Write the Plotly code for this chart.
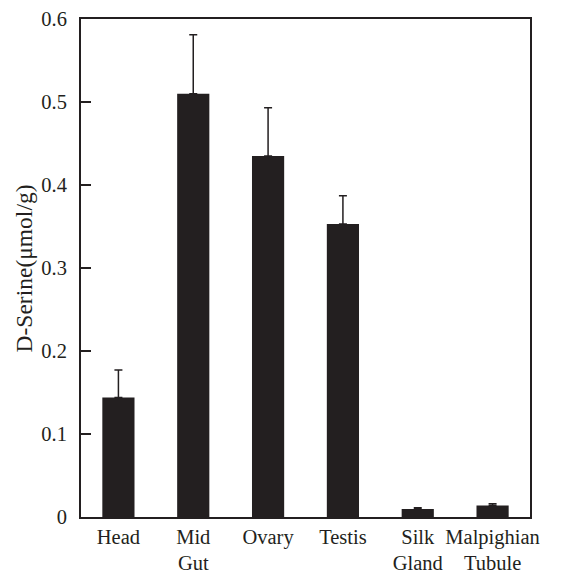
import plotly.graph_objects as go

categories = ["Head", "Mid<br>Gut", "Ovary", "Testis", "Silk<br>Gland", "Malpighian<br>Tubule"]
values = [0.144, 0.510, 0.435, 0.353, 0.0095, 0.0138]
err_upper = [0.033, 0.071, 0.058, 0.034, 0.0017, 0.0022]
tick_vals = [0, 0.1, 0.2, 0.3, 0.4, 0.5, 0.6]
tick_text = ["0", "0.1", "0.2", "0.3", "0.4", "0.5", "0.6"]
y_title = "D-Serine(μmol/g)"

fig = go.Figure()
fig.add_trace(go.Bar(
    x=categories, y=values,
    marker=dict(color="#231f20", line=dict(width=0)),
    width=0.43,
    error_y=dict(type="data", symmetric=False, array=err_upper,
                 arrayminus=[0] * len(values),
                 color="#231f20", thickness=1.5, width=4),
))

font = "Liberation Serif, Times New Roman, serif"
fig.update_layout(
    width=563, height=573,
    margin=dict(l=81, r=33, t=19, b=56),
    plot_bgcolor="white", paper_bgcolor="white",
    showlegend=False,
    font=dict(family=font, size=20, color="#231f20"),
    bargap=0.57,
)
fig.update_xaxes(
    showline=True, linewidth=2, linecolor="#231f20", mirror=True,
    ticks="", showgrid=False, automargin=False,
    tickfont=dict(family=font, size=20.5, color="#231f20"),
)
fig.update_yaxes(
    range=[0, 0.6], tickvals=tick_vals, ticktext=tick_text,
    showline=True, linewidth=2, linecolor="#231f20", mirror=True,
    ticks="inside", ticklen=10, tickwidth=2, tickcolor="#231f20",
    showgrid=False, zeroline=False, automargin=False,
    ticklabelstandoff=8,
    tickfont=dict(family=font, size=20.5, color="#231f20"),
)
fig.add_annotation(
    text=y_title, xref="paper", yref="paper", x=-0.126, y=0.5,
    xanchor="center", yanchor="middle", textangle=-90, showarrow=False,
    font=dict(family=font, size=23.5, color="#231f20"),
)

fig.write_html("out.html")
